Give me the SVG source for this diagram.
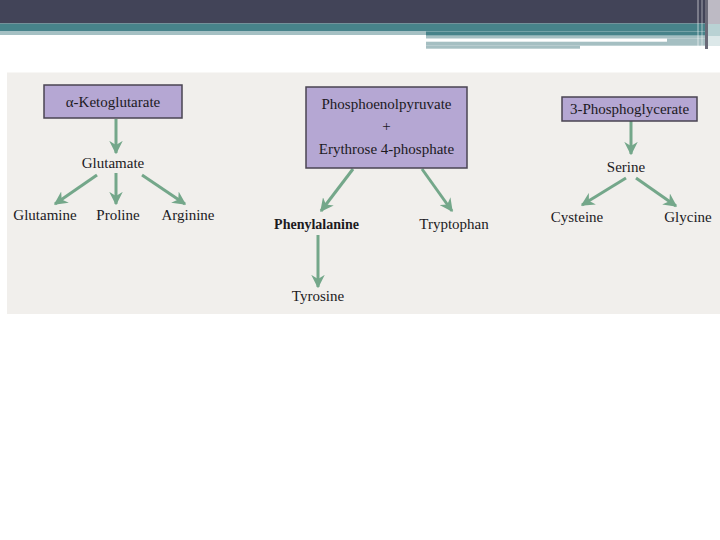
<svg xmlns="http://www.w3.org/2000/svg" width="720" height="540" viewBox="0 0 720 540">
<style>
.lbl{font-family:"Liberation Serif","Times New Roman",serif;font-size:15px;fill:#1c1a1e;text-anchor:middle}
.bt{font-size:15px}
.box{fill:#b5a7d3;stroke:#4a4452;stroke-width:1.5}
.arr{stroke:#74a78a;stroke-width:3;fill:none;marker-end:url(#ah)}
</style>
<defs>
<marker id="ah" viewBox="0 0 10 10" refX="9" refY="5" markerWidth="4.5" markerHeight="4.5" orient="auto" markerUnits="strokeWidth">
<path d="M0,0 L10,5 L0,10 L3,5 z" fill="#74a78a"/>
</marker>
</defs>
<rect width="720" height="540" fill="#ffffff"/>
<g id="header">
<rect x="0" y="0" width="720" height="23.5" fill="#424458"/>
<rect x="0" y="23.5" width="720" height="8" fill="#47838a"/>
<rect x="0" y="31.5" width="426" height="3.5" fill="#a5c0c3"/>
<rect x="426" y="31.5" width="294" height="4.2" fill="#47838a"/>
<rect x="426" y="35.7" width="281" height="3" fill="#a5bfc2"/>
<rect x="426" y="38.7" width="241" height="3" fill="#ffffff"/>
<rect x="667" y="38.7" width="40" height="7" fill="#a5bfc2"/>
<rect x="426" y="41.7" width="241" height="4" fill="#a5bfc2"/>
<rect x="426" y="45.7" width="154" height="3" fill="#a5bfc2"/>
<rect x="697" y="0" width="2" height="46" fill="#ffffff" opacity="0.3"/>
<rect x="701" y="0" width="2" height="46" fill="#ffffff" opacity="0.25"/>
<rect x="705" y="0" width="3" height="49" fill="#6a6a78"/>
<rect x="708" y="0" width="12" height="24" fill="#bdbac4"/>
<rect x="708" y="24" width="12" height="12" fill="#b9d2d4"/>
<rect x="708" y="36" width="12" height="10" fill="#dce8e9"/>
</g>
<rect id="scan" x="7" y="72.5" width="713" height="241.5" fill="#f1efec"/>
<g id="connectors">
<line class="arr" x1="116" y1="119" x2="116" y2="153"/>
<line class="arr" x1="97" y1="175" x2="55" y2="204"/>
<line class="arr" x1="116" y1="173" x2="116" y2="204"/>
<line class="arr" x1="142" y1="175" x2="185" y2="204"/>
<line class="arr" x1="353" y1="169" x2="321" y2="211"/>
<line class="arr" x1="422" y1="169" x2="452" y2="211"/>
<line class="arr" x1="318" y1="235" x2="318" y2="287"/>
<line class="arr" x1="631" y1="121" x2="631" y2="154"/>
<line class="arr" x1="626" y1="178" x2="582" y2="205"/>
<line class="arr" x1="636" y1="178" x2="676" y2="206"/>
</g>
<g id="akg"><rect class="box" x="44" y="85" width="138" height="33"/><text class="lbl bt" x="113" y="107">α-Ketoglutarate</text></g>
<g id="pep"><rect class="box" x="306" y="87" width="161" height="81"/>
<text class="lbl bt" x="386.5" y="109">Phosphoenolpyruvate</text>
<text class="lbl bt" x="386.5" y="131">+</text>
<text class="lbl bt" x="386.5" y="154">Erythrose 4-phosphate</text></g>
<g id="pg3"><rect class="box" x="562" y="97" width="135" height="24"/><text class="lbl bt" x="629.5" y="114">3-Phosphoglycerate</text></g>
<g id="glutamate"><text class="lbl" x="113" y="168">Glutamate</text></g>
<g id="glutamine"><text class="lbl" x="45" y="220">Glutamine</text></g>
<g id="proline"><text class="lbl" x="118" y="220">Proline</text></g>
<g id="arginine"><text class="lbl" x="188" y="220">Arginine</text></g>
<g id="phenylalanine"><text class="lbl" x="316.5" y="229" style="font-weight:bold;font-size:14px">Phenylalanine</text></g>
<g id="tryptophan"><text class="lbl" x="454" y="229">Tryptophan</text></g>
<g id="tyrosine"><text class="lbl" x="318" y="301">Tyrosine</text></g>
<g id="serine"><text class="lbl" x="626" y="172">Serine</text></g>
<g id="cysteine"><text class="lbl" x="577" y="222">Cysteine</text></g>
<g id="glycine"><text class="lbl" x="688" y="222">Glycine</text></g>
</svg>
